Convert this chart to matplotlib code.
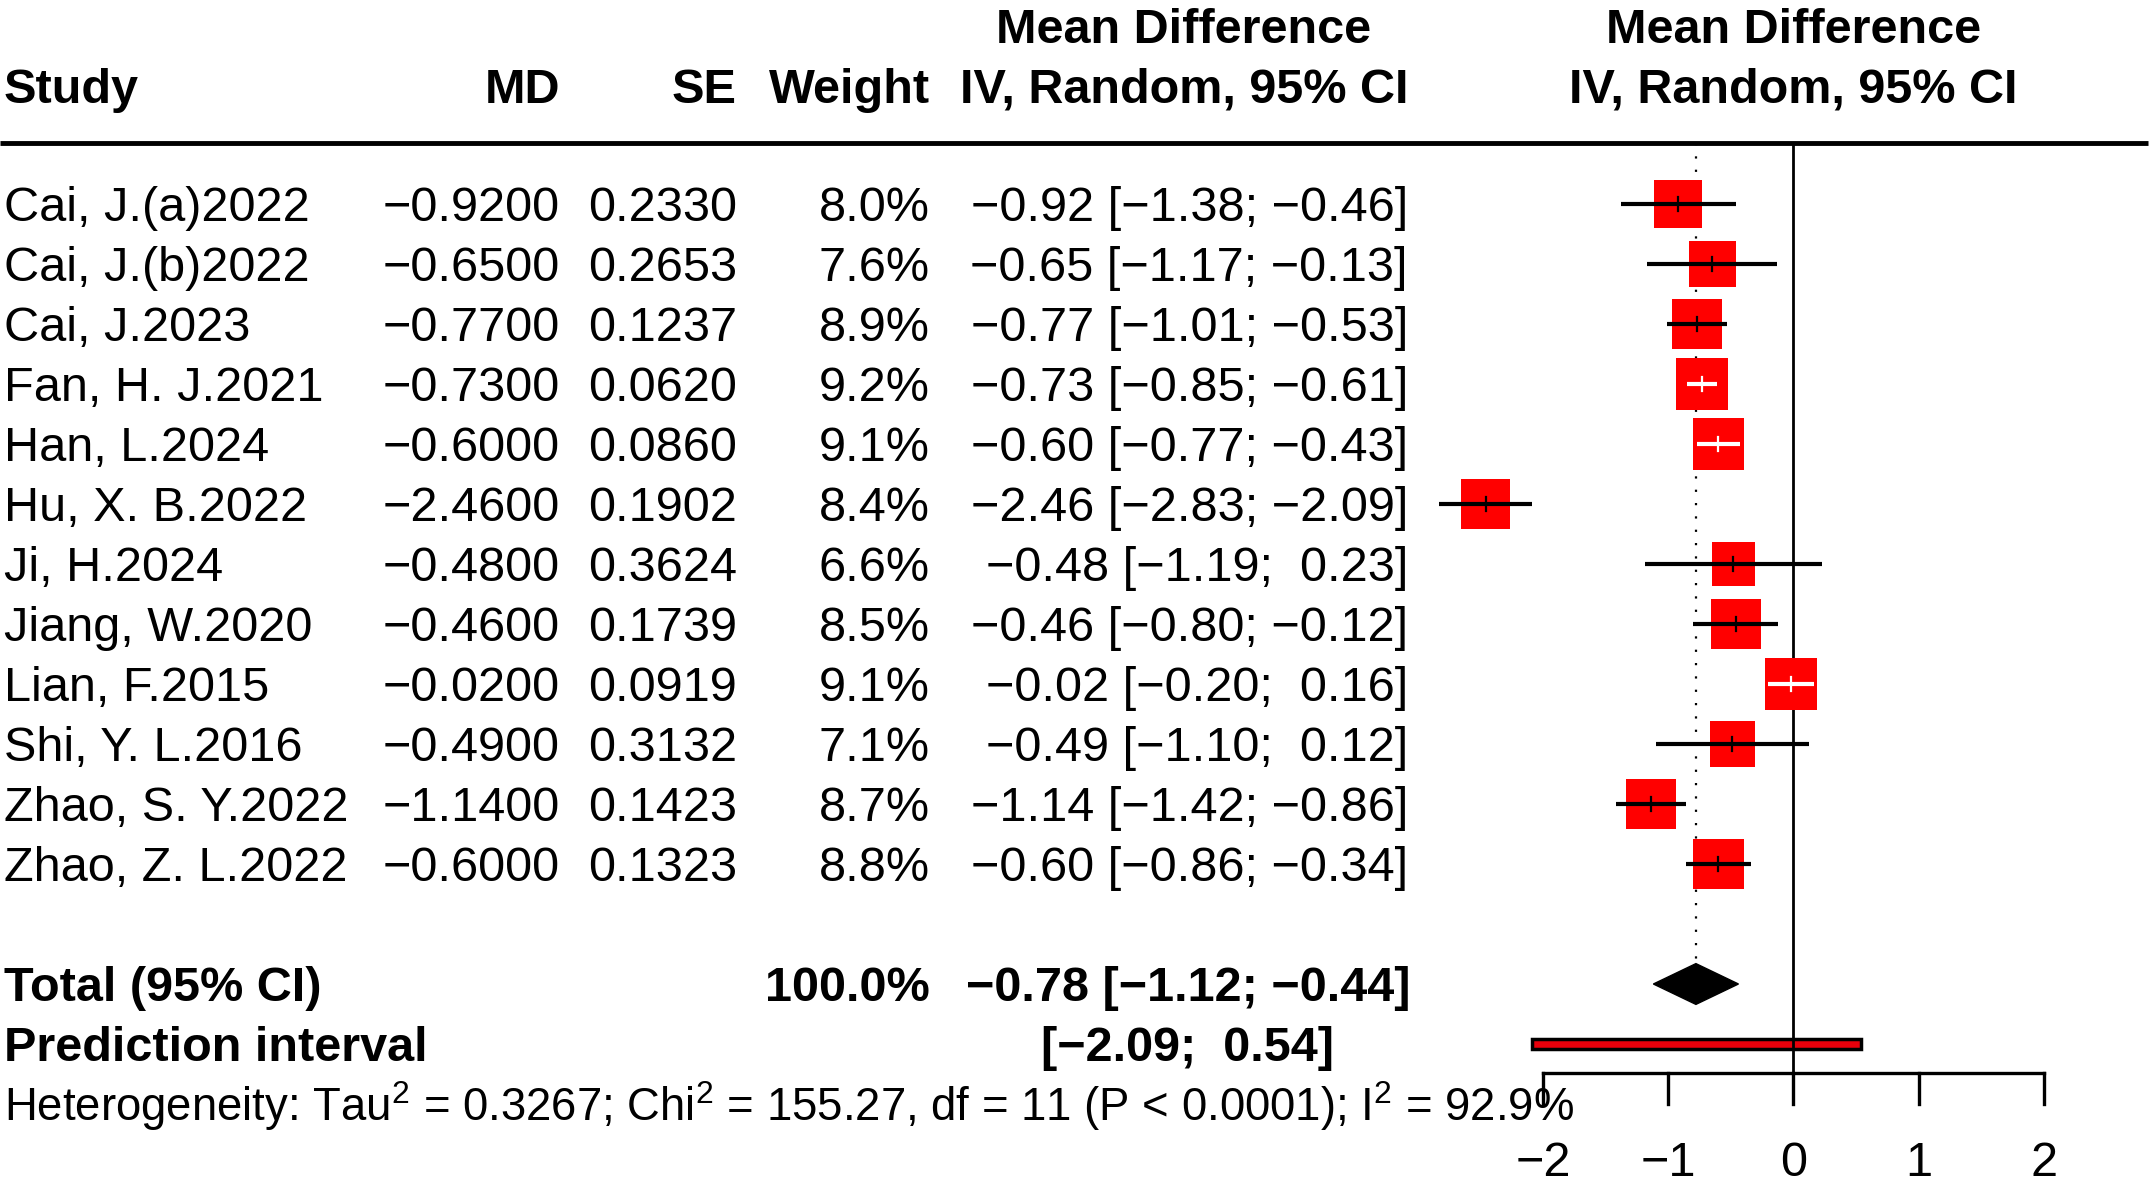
import numpy as np
import matplotlib
matplotlib.use("Agg")
from matplotlib import pyplot as plt
from matplotlib.patches import Rectangle, Polygon

plt.rcParams['font.family'] = ['Liberation Sans', 'DejaVu Sans']
plt.rcParams['mathtext.fontset'] = 'custom'
plt.rcParams['mathtext.rm'] = 'Liberation Sans'
plt.rcParams['mathtext.default'] = 'regular'

# данные метаанализа
studies = ["Cai, J.(a)2022", "Cai, J.(b)2022", "Cai, J.2023", "Fan, H. J.2021",
           "Han, L.2024", "Hu, X. B.2022", "Ji, H.2024", "Jiang, W.2020",
           "Lian, F.2015", "Shi, Y. L.2016", "Zhao, S. Y.2022", "Zhao, Z. L.2022"]
md = [-0.92, -0.65, -0.77, -0.73, -0.60, -2.46, -0.48, -0.46, -0.02, -0.49, -1.14, -0.60]
se = [0.2330, 0.2653, 0.1237, 0.0620, 0.0860, 0.1902, 0.3624, 0.1739, 0.0919, 0.3132, 0.1423, 0.1323]
weight = [8.0, 7.6, 8.9, 9.2, 9.1, 8.4, 6.6, 8.5, 9.1, 7.1, 8.7, 8.8]
ci_low = [-1.38, -1.17, -1.01, -0.85, -0.77, -2.83, -1.19, -0.80, -0.20, -1.10, -1.42, -0.86]
ci_high = [-0.46, -0.13, -0.53, -0.61, -0.43, -2.09, 0.23, -0.12, 0.16, 0.12, -0.86, -0.34]

total_md = -0.78
total_low = -1.12
total_high = -0.44
pred_low = -2.09
pred_high = 0.54
ticks = [-2, -1, 0, 1, 2]
het_text = ("Heterogeneity: Tau$^{2}$ = 0.3267; Chi$^{2}$ = 155.27, df = 11 "
            "(P < 0.0001); I$^{2}$ = 92.9%")


def minus(s):
    return s.replace("-", "\u2212")


W, H = 2152, 1184
fig = plt.figure(figsize=(W / 100, H / 100), dpi=100)
ax = fig.add_axes([0, 0, 1, 1])

px_x = 125.1      # пикселей на единицу MD
zero_px = 1793.5
row_px = 60.0
row0_px = 204
ax.set_xlim(-zero_px / px_x, (W - zero_px) / px_x)
ax.set_ylim((H - row0_px) / row_px, -row0_px / row_px)
ax.axis('off')

tr = ax.get_yaxis_transform()
fs = 35
base = 0.29

col_study = 4 / W
col_md = 560 / W
col_se = 737 / W
col_w = 930 / W
col_ci = 1408 / W
col_ci_head = 1184 / W


def txt(x, row, s, ha='left', bold=False, size=fs):
    ax.text(x, row + base, s, transform=tr, ha=ha, va='baseline', fontsize=size,
            fontweight='bold' if bold else 'normal')


# заголовки
head1 = -2.98
head2 = -1.98
txt(col_study, head2, "Study", bold=True)
txt(col_md, head2, "MD", ha='right', bold=True)
txt(col_se, head2, "SE", ha='right', bold=True)
txt(col_w, head2, "Weight", ha='right', bold=True)
txt(col_ci_head, head1, "Mean Difference", ha='center', bold=True)
txt(col_ci_head, head2, "IV, Random, 95% CI", ha='center', bold=True)
ax.text(0, head1 + base, "Mean Difference", ha='center', va='baseline', fontsize=fs, fontweight='bold')
ax.text(0, head2 + base, "IV, Random, 95% CI", ha='center', va='baseline', fontsize=fs, fontweight='bold')

rule_y = -1.02
ax.plot([0, 2148 / W], [rule_y, rule_y], transform=tr, color='black', lw=3.5,
        solid_capstyle='butt')

# строки исследований
for i in range(len(studies)):
    txt(col_study, i, studies[i])
    txt(col_md, i, minus(f"{md[i]:.4f}"), ha='right')
    txt(col_se, i, f"{se[i]:.4f}", ha='right')
    txt(col_w, i, f"{weight[i]:.1f}%", ha='right')
    txt(col_ci, i, minus(f"{md[i]:.2f} [{ci_low[i]:.2f}; {ci_high[i]:5.2f}]"), ha='right')

    side = 16.97 * np.sqrt(weight[i])
    sw = side / px_x
    sh = side / row_px
    ax.add_patch(Rectangle((md[i] - sw / 2, i - sh / 2), sw, sh, fc='#ff0000', ec='none', zorder=3))
    inside = ci_low[i] >= md[i] - sw / 2 and ci_high[i] <= md[i] + sw / 2
    c = 'white' if inside else 'black'
    ax.plot([ci_low[i], ci_high[i]], [i, i], color=c, lw=3, solid_capstyle='butt', zorder=4)
    ax.plot([md[i], md[i]], [i - 0.12, i + 0.12], color=c, lw=1.6, zorder=4)

# итог
n = len(studies)
row_total = n + 1
row_pred = n + 2
row_het = n + 3
txt(col_study, row_total, "Total (95% CI)", bold=True)
txt(col_w, row_total, "100.0%", ha='right', bold=True)
txt(1411 / W, row_total, minus(f"{total_md:.2f} [{total_low:.2f}; {total_high:.2f}]"), ha='right', bold=True)
txt(col_study, row_pred, "Prediction interval", bold=True)
txt(1334 / W, row_pred, minus(f"[{pred_low:.2f}; {pred_high:5.2f}]"), ha='right', bold=True)
txt(col_study, row_het, het_text, size=32.8)

dh = 0.34
ax.add_patch(Polygon([(total_low, row_total), (total_md, row_total - dh),
                      (total_high, row_total), (total_md, row_total + dh)],
                     closed=True, fc='black', ec='black', lw=1, zorder=3))
ax.add_patch(Rectangle((pred_low, row_pred - 0.09), pred_high - pred_low, 0.18,
                       fc='#e8000b', ec='black', lw=2.5, zorder=1))

# ось
axis_y = 14.48
tick_end = 15.0
ax.plot([total_md, total_md], [rule_y, row_total - dh - 0.05], color='black', lw=1.6,
        linestyle=(0, (1, 5)), zorder=2)
ax.plot([0, 0], [rule_y, tick_end], color='black', lw=2, zorder=2)
ax.plot([ticks[0], ticks[-1]], [axis_y, axis_y], color='black', lw=2.4, zorder=2)
for t in ticks:
    ax.plot([t, t], [axis_y, tick_end], color='black', lw=2.4, zorder=2)
    ax.text(t, 16.2, minus(str(t)), ha='center', va='baseline', fontsize=fs)

fig.savefig("out.png", dpi=100)
